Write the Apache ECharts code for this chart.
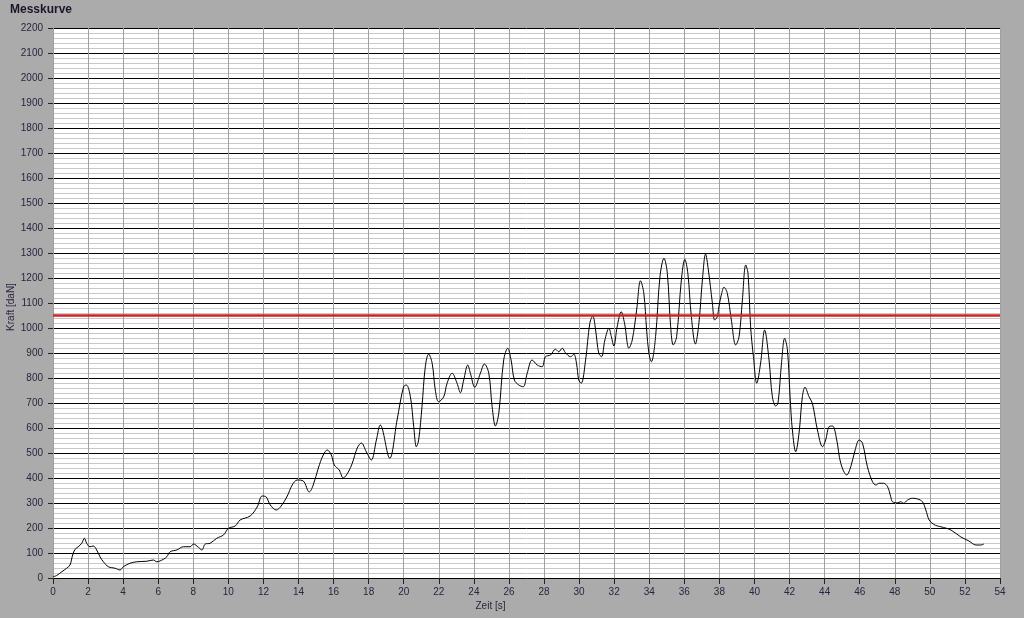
<!DOCTYPE html>
<html>
<head>
<meta charset="utf-8">
<script src="https://cdn.jsdelivr.net/npm/echarts@6/dist/echarts.min.js"></script>
<style>
html,body{margin:0;padding:0;background:#ababab;}
#chart{width:1024px;height:618px;}
</style>
</head>
<body>
<div id="chart"></div>
<script>
// Time [s]
var zeit = [0.00,0.21,0.50,0.78,0.97,1.12,1.26,1.44,1.64,1.79,1.92,2.11,2.30,2.49,2.68,2.87,3.16,3.54,3.82,4.01,
4.39,4.78,5.35,5.72,5.92,6.30,6.49,6.68,7.06,7.44,7.82,8.01,8.29,8.49,8.68,8.96,9.34,9.72,10.01,10.39,
10.67,11.24,11.64,11.93,12.16,12.39,12.73,13.01,13.36,13.64,13.93,14.27,14.61,14.84,15.13,15.41,15.64,15.87,16.04,16.32,
16.55,16.84,17.07,17.35,17.58,17.87,18.15,18.44,18.66,19.20,19.62,19.99,20.15,20.38,20.57,20.72,20.85,21.04,21.23,21.42,
21.62,21.80,21.99,22.28,22.47,22.76,23.04,23.23,23.42,23.65,23.80,24.05,24.37,24.60,24.85,25.04,25.23,25.42,25.70,25.93,
26.12,26.31,26.56,26.81,27.04,27.32,27.61,27.89,28.08,28.37,28.65,28.84,29.04,29.22,29.51,29.70,29.85,29.98,30.12,30.37,
30.61,30.78,30.94,31.12,31.28,31.47,31.70,31.84,31.98,32.17,32.40,32.59,32.84,33.03,33.28,33.50,33.69,33.85,33.98,34.12,
34.36,34.61,34.84,35.03,35.22,35.37,35.56,35.83,36.03,36.20,36.40,36.63,36.83,37.03,37.21,37.37,37.60,37.73,37.88,37.97,
38.13,38.26,38.45,38.68,38.93,39.12,39.31,39.50,39.63,39.78,39.94,40.13,40.35,40.58,40.83,41.02,41.21,41.34,41.54,41.72,
41.88,42.03,42.16,42.35,42.54,42.73,42.88,43.11,43.30,43.59,43.88,44.06,44.25,44.45,44.69,44.92,45.26,45.49,45.74,45.97,
46.16,46.44,46.73,46.92,47.11,47.36,47.59,47.77,47.87,48.16,48.34,48.50,48.73,49.01,49.30,49.58,49.77,49.96,50.21,50.44,
50.63,51.20,51.77,52.23,52.63,52.91,53.08];
// Force [daN]
var kraft = [5,10,25,39,52,92,115,125,139,159,139,125,128,112,85,65,45,39,32,45,
59,65,67,72,65,75,85,105,112,125,125,136,123,112,136,139,159,172,199,208,
232,248,284,328,324,292,272,288,328,372,392,388,344,372,440,492,512,492,452,432,
400,424,460,520,540,504,472,552,612,479,632,765,772,725,605,525,552,685,845,896,
859,752,705,725,779,819,779,741,792,852,819,763,819,856,819,685,608,659,872,919,
872,792,772,765,819,872,852,845,885,892,915,905,919,901,885,895,859,792,779,872,
1019,1048,992,899,885,952,999,965,928,1005,1065,1019,919,952,1072,1189,1139,992,899,865,
965,1205,1279,1219,1005,932,965,1192,1275,1219,1045,936,1019,1192,1296,1232,1099,1032,1045,1085,
1139,1163,1139,1032,932,965,1112,1252,1219,1005,885,779,860,992,872,725,688,699,859,959,
912,725,592,505,579,725,763,725,699,592,525,552,605,608,552,459,412,445,512,552,
539,445,385,372,379,379,365,325,305,301,305,299,312,319,316,305,272,232,215,208,
205,192,164,148,132,132,136];
var grenzwert = 1050;
var xTicks = [0,54];
var yRange = [0,2200];

var curve = zeit.map(function(t,i){return [t,kraft[i]];});
var chart = echarts.init(document.getElementById('chart'));
var txt = '#2e2240';
var font = 'Liberation Sans';
chart.setOption({
  backgroundColor:'#ababab',
  animation:false,
  textStyle:{fontFamily:font},
  title:{text:'Messkurve',left:10,top:4,padding:0,textStyle:{fontSize:12,fontWeight:'bold',color:'#1e1428',fontFamily:font}},
  grid:{left:53,right:24,top:28,bottom:40,containLabel:false,outerBoundsMode:'none',show:true,backgroundColor:'#ffffff',borderWidth:0},
  xAxis:{type:'value',min:xTicks[0],max:xTicks[1],interval:2,
    name:'Zeit [s]',nameLocation:'middle',nameGap:23,nameMoveOverlap:false,
    nameTextStyle:{color:txt,fontSize:10,fontFamily:font,padding:[0,72,0,0]},
    axisLine:{show:false},
    axisTick:{show:true,length:6,lineStyle:{color:'#222'}},
    axisLabel:{color:txt,fontSize:10,margin:9,fontFamily:font},
    splitLine:{show:true,lineStyle:{color:'#a0a0a0',width:1}}},
  yAxis:{type:'value',min:yRange[0],max:yRange[1],interval:100,
    name:'Kraft [daN]',nameLocation:'middle',nameGap:37,nameMoveOverlap:false,
    nameTextStyle:{color:txt,fontSize:10,fontFamily:font,padding:[0,8,0,0]},
    axisLine:{show:false},
    axisTick:{show:true,length:5,lineStyle:{color:'#222'}},
    axisLabel:{color:txt,fontSize:10,margin:10,fontFamily:font,formatter:function(v){return String(v);}},
    splitLine:{show:true,lineStyle:{color:'#000000',width:1}},
    minorTick:{show:false,splitNumber:5},
    minorSplitLine:{show:true,lineStyle:{color:'#c8c8c8',width:1}}},
  series:[
    {type:'line',data:curve,showSymbol:false,smooth:0.35,lineStyle:{color:'#000',width:1},z:3},
    {type:'line',data:[[xTicks[0],grenzwert],[xTicks[1],grenzwert]],showSymbol:false,
     lineStyle:{color:'#cc2424',width:2.5},z:4}
  ]
});
</script>
</body>
</html>
